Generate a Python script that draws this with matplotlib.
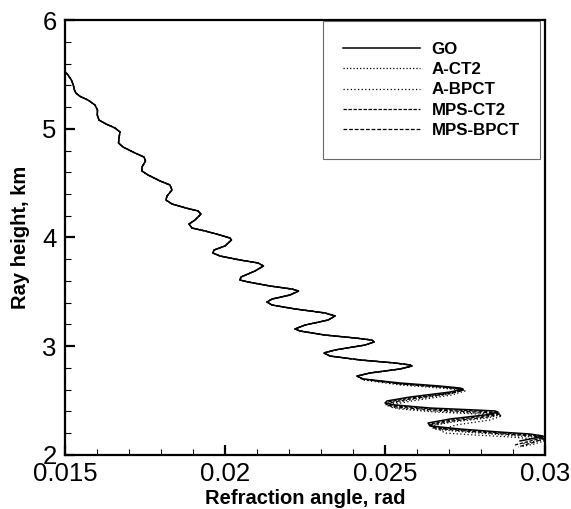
"""Ray height vs refraction angle, GO and four wave-optics methods."""
import numpy as np
import matplotlib

matplotlib.use("Agg")
import matplotlib.pyplot as plt  # noqa: E402
from matplotlib.ticker import MultipleLocator  # noqa: E402

plt.rcParams["font.family"] = ["Liberation Sans", "DejaVu Sans"]

# shared upper part of all curves (they coincide above ~2.7 km)
upper_angle = [
    0.015000, 0.015094, 0.015200, 0.015260, 0.015290, 0.015340, 0.015469, 0.015719,
    0.015938, 0.016016, 0.016010, 0.016063, 0.016281, 0.016563, 0.016719, 0.016688,
    0.016672, 0.016813, 0.017188, 0.017469, 0.017516, 0.017406, 0.017406, 0.017594,
    0.017969, 0.018281, 0.018344, 0.018188, 0.018156, 0.018344, 0.018781, 0.019156,
    0.019250, 0.019063, 0.018875, 0.018969, 0.019375, 0.019844, 0.020156, 0.020203,
    0.020000, 0.019656, 0.019625, 0.019844, 0.020469, 0.021031, 0.021203, 0.020938,
    0.020500, 0.020469, 0.020719, 0.021406, 0.022094, 0.022297, 0.022031, 0.021469,
    0.021313, 0.021469, 0.022188, 0.023125, 0.023438, 0.023219, 0.022500, 0.022188,
    0.022344, 0.023125, 0.024063, 0.024594, 0.024656, 0.024375, 0.023438, 0.023094,
    0.023281, 0.024219, 0.025313, 0.025781, 0.025844, 0.025469, 0.024531, 0.024125,
]
upper_height = [
    5.525, 5.494, 5.448, 5.402, 5.362, 5.329, 5.298, 5.264,
    5.218, 5.172, 5.126, 5.080, 5.044, 5.007, 4.970, 4.915,
    4.869, 4.832, 4.777, 4.740, 4.703, 4.648, 4.611, 4.575,
    4.520, 4.483, 4.437, 4.382, 4.345, 4.308, 4.271, 4.244,
    4.216, 4.161, 4.124, 4.087, 4.060, 4.023, 3.995, 3.977,
    3.922, 3.885, 3.857, 3.830, 3.793, 3.766, 3.738, 3.692,
    3.637, 3.609, 3.591, 3.554, 3.526, 3.508, 3.471, 3.434,
    3.407, 3.379, 3.343, 3.306, 3.278, 3.241, 3.195, 3.159,
    3.140, 3.103, 3.076, 3.057, 3.039, 3.011, 2.966, 2.938,
    2.910, 2.874, 2.846, 2.828, 2.818, 2.791, 2.754, 2.726,
]

# lower tails, where the methods split apart
go_tail_angle = [
    0.024313, 0.025469, 0.026719, 0.027344, 0.027438, 0.027031, 0.025781, 0.025063,
    0.025000, 0.025313, 0.026406, 0.027813, 0.028438, 0.028531, 0.028125, 0.027031,
    0.026344, 0.026406, 0.027344, 0.028594, 0.029531, 0.029938, 0.029688, 0.029219,
]
go_tail_height = [
    2.699, 2.662, 2.634, 2.616, 2.607, 2.579, 2.533, 2.497,
    2.478, 2.460, 2.432, 2.414, 2.405, 2.395, 2.368, 2.331,
    2.294, 2.267, 2.239, 2.211, 2.193, 2.175, 2.156, 2.129,
]

act2_tail_angle = [
    0.024313, 0.025469, 0.026719, 0.027375, 0.027469, 0.027031, 0.025781, 0.025125,
    0.025094, 0.025406, 0.026469, 0.027844, 0.028500, 0.028594, 0.028188, 0.027094,
    0.026438, 0.026531, 0.027500, 0.028750, 0.029594, 0.029969, 0.029719, 0.029281,
]
act2_tail_height = [
    2.694, 2.653, 2.625, 2.607, 2.598, 2.561, 2.506, 2.469,
    2.451, 2.432, 2.405, 2.386, 2.377, 2.368, 2.340, 2.303,
    2.267, 2.239, 2.211, 2.184, 2.166, 2.147, 2.129, 2.101,
]

abpct_tail_angle = [
    0.024313, 0.025469, 0.026719, 0.027375, 0.027500, 0.027094, 0.025844, 0.025188,
    0.025156, 0.025469, 0.026563, 0.027906, 0.028531, 0.028656, 0.028281, 0.027219,
    0.026719, 0.026875, 0.027813, 0.028906, 0.029688, 0.029969, 0.029656, 0.029219,
]
abpct_tail_height = [
    2.690, 2.644, 2.616, 2.598, 2.589, 2.552, 2.497, 2.460,
    2.441, 2.423, 2.395, 2.377, 2.368, 2.359, 2.322, 2.276,
    2.230, 2.202, 2.184, 2.166, 2.147, 2.129, 2.101, 2.074,
]

mct2_tail_angle = [
    0.024313, 0.025469, 0.026719, 0.027344, 0.027438, 0.027031, 0.025781, 0.025094,
    0.025031, 0.025344, 0.026469, 0.027844, 0.028469, 0.028563, 0.028156, 0.027094,
    0.026406, 0.026469, 0.027406, 0.028656, 0.029594, 0.030000, 0.029656, 0.029063,
]
mct2_tail_height = [
    2.699, 2.657, 2.630, 2.611, 2.598, 2.570, 2.524, 2.487,
    2.469, 2.451, 2.423, 2.405, 2.395, 2.386, 2.359, 2.322,
    2.285, 2.257, 2.230, 2.202, 2.184, 2.166, 2.138, 2.092,
]

mbpct_tail_angle = [
    0.024313, 0.025469, 0.026719, 0.027344, 0.027438, 0.027031, 0.025781, 0.025094,
    0.025031, 0.025375, 0.026500, 0.027875, 0.028500, 0.028594, 0.028188, 0.027125,
    0.026438, 0.026531, 0.027469, 0.028719, 0.029625, 0.030000, 0.029688, 0.029156,
]
mbpct_tail_height = [
    2.699, 2.653, 2.625, 2.607, 2.593, 2.566, 2.515, 2.478,
    2.460, 2.441, 2.414, 2.395, 2.386, 2.377, 2.349, 2.313,
    2.276, 2.248, 2.221, 2.193, 2.175, 2.156, 2.120, 2.074,
]

series = [
    ("GO", go_tail_angle, go_tail_height, "-", 1.1),
    ("A-CT2", act2_tail_angle, act2_tail_height, ":", 0.9),
    ("A-BPCT", abpct_tail_angle, abpct_tail_height, (0, (1, 1.9)), 0.9),
    ("MPS-CT2", mct2_tail_angle, mct2_tail_height, (0, (2.7, 1.3)), 0.9),
    ("MPS-BPCT", mbpct_tail_angle, mbpct_tail_height, (0, (3.0, 1.5)), 0.9),
]

fig = plt.figure(figsize=(5.71, 5.09), dpi=100)
ax = fig.add_axes([0.1138, 0.1061, 0.8407, 0.8546])

for name, tx, ty, ls, lw in series[::-1]:
    x = np.concatenate([upper_angle, tx])
    y = np.concatenate([upper_height, ty])
    ax.plot(x, y, color="black", linestyle=ls, linewidth=lw, label=name)

ax.set_xlim(0.015, 0.03)
ax.set_ylim(2, 6)
ax.set_xticks([0.015, 0.02, 0.025, 0.03])
ax.set_xticklabels(["0.015", "0.02", "0.025", "0.03"])
ax.set_yticks([2, 3, 4, 5, 6])
ax.xaxis.set_minor_locator(MultipleLocator(0.001))
ax.yaxis.set_minor_locator(MultipleLocator(0.2))

for s in ax.spines.values():
    s.set_linewidth(1.6)
ax.tick_params(which="both", direction="in", top=False, right=False)
ax.tick_params(which="major", length=7.2, width=1.6, labelsize=18.5, pad=5)
ax.tick_params(which="minor", length=4, width=0.8)
ax.tick_params(axis="y", which="major", pad=6)

ax.set_xlabel("Refraction angle, rad", fontsize=14.5, fontweight="bold", labelpad=2)
ax.set_ylabel("Ray height, km", fontsize=14.5, fontweight="bold", labelpad=9)

handles, labels = ax.get_legend_handles_labels()
leg = ax.legend(handles[::-1], labels[::-1], loc="upper left",
                bbox_to_anchor=(0.5375, 0.997), borderaxespad=0,
                prop={"weight": "bold", "size": 12.2}, frameon=True, fancybox=False,
                borderpad=1.2, handlelength=4.5, handletextpad=0.7,
                labelspacing=0.32)
leg.get_frame().set_edgecolor("#444444")
leg.get_frame().set_linewidth(0.8)

fig.savefig("out.png", dpi=100)
